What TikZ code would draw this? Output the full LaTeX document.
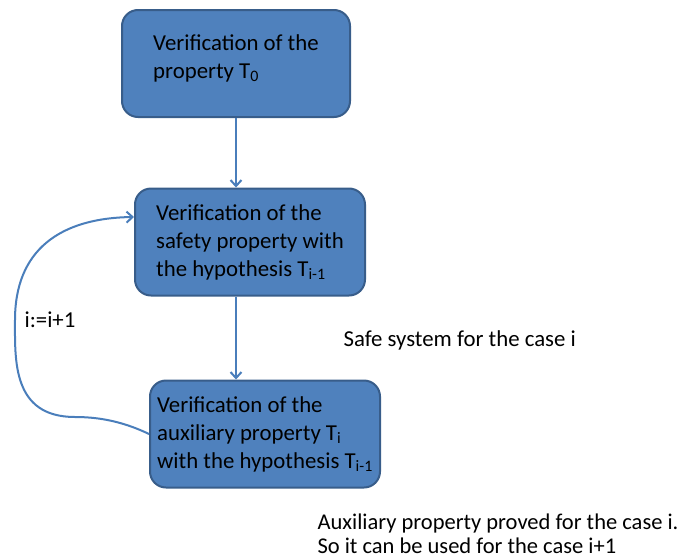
\documentclass[tikz,border=0pt]{standalone}
\usepackage{fontspec}
\setmainfont{Carlito}
\usetikzlibrary{arrows.meta}
\definecolor{boxblue}{RGB}{79,129,189}
\definecolor{boxedge}{RGB}{56,93,138}
\definecolor{flowblue}{RGB}{74,126,187}
\tikzset{
    stage/.style={draw=boxedge, fill=boxblue, line width=2pt, rounded corners=16pt,
        align=left, minimum height=107pt},
    flow/.style={draw=flowblue, line width=2pt, -{Straight Barb[length=6pt,width=11pt]}}
}
\begin{document}
\begin{tikzpicture}[x=1pt, y=1pt, font=\fontsize{22.8}{28}\selectfont]
        \useasboundingbox (0,0) rectangle (681,-560);
        \node [stage, minimum width=228pt] (prop0) at (236,-63.5)
            {Verification of the\\property T\textsubscript{0}\\[-14pt]};
        \node [stage, minimum width=230pt] (safe) at (250,-242)
            {Verification of the\\safety property with\\the hypothesis T\textsubscript{i-1}};
        \node [stage, minimum width=230pt] (aux) at (265,-434)
            {Verification of the\\auxiliary property T\textsubscript{i}\\with the hypothesis T\textsubscript{i-1}};
        \draw [flow] (prop0.south) -- (prop0.south |- safe.north);
        \draw [flow] (prop0.south |- safe.south) -- (prop0.south |- aux.north);
        \draw [flow] (aux.west) .. controls (120,-420) and (95,-417) .. (75,-417)
            .. controls (12,-417) and (15,-360) .. (15,-320)
            .. controls (15,-250) and (60,-218) .. ([yshift=25pt]safe.west);
        \node (incr) at (50,-320) {i:=i+1};
        \node [anchor=west] (safecase) at (340,-340) {Safe system for the case i};
        \node [anchor=west, align=left, font=\fontsize{22.5}{24}\selectfont] (auxcase) at (314,-534)
            {Auxiliary property proved for the case i.\\So it can be used for the case i+1};
\end{tikzpicture}
\end{document}
